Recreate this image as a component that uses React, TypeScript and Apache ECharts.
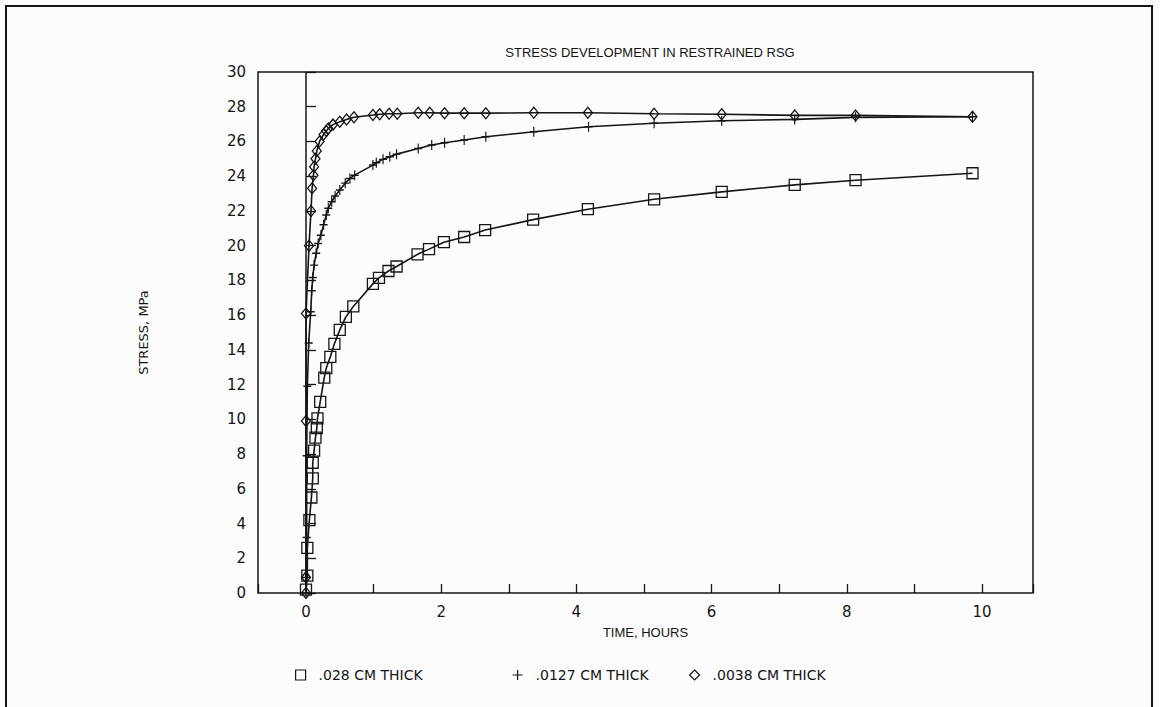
import React, { useEffect, useRef } from "react";
import * as echarts from "echarts";

// Elapsed time (hours) and measured stress (MPa) for each film thickness
const time028 = [0, 0.02, 0.02, 0.05, 0.08, 0.1, 0.1, 0.12, 0.14, 0.16, 0.17, 0.21, 0.27, 0.3, 0.36, 0.42, 0.5, 0.59, 0.7, 0.99, 1.08, 1.22, 1.34, 1.65, 1.82, 2.04, 2.34, 2.65, 3.36, 4.17, 5.15, 6.15, 7.23, 8.13, 9.86];
const stress028 = [0.2, 1.0, 2.6, 4.2, 5.5, 6.6, 7.5, 8.2, 8.95, 9.5, 10.05, 11.0, 12.4, 12.95, 13.6, 14.35, 15.15, 15.9, 16.5, 17.8, 18.15, 18.54, 18.8, 19.5, 19.8, 20.2, 20.5, 20.9, 21.5, 22.1, 22.67, 23.1, 23.5, 23.77, 24.17];

const time0127 = [0, 0, 0.01, 0.01, 0.02, 0.04, 0.07, 0.085, 0.1, 0.12, 0.15, 0.18, 0.22, 0.26, 0.3, 0.33, 0.38, 0.43, 0.5, 0.58, 0.65, 0.72, 0.99, 1.04, 1.14, 1.24, 1.34, 1.66, 1.86, 2.05, 2.34, 2.66, 3.37, 4.18, 5.15, 6.15, 7.23, 8.13, 9.86];
const stress0127 = [0, 0.9, 3.2, 7.9, 11.9, 14.4, 16.2, 17.4, 18.17, 18.88, 19.56, 20.13, 20.6, 21.2, 21.76, 22.15, 22.53, 22.86, 23.2, 23.6, 23.87, 24.06, 24.64, 24.77, 24.97, 25.12, 25.27, 25.6, 25.8, 25.93, 26.08, 26.27, 26.56, 26.85, 27.05, 27.19, 27.27, 27.39, 27.42];

const time0038 = [0, 0, 0, 0, 0.045, 0.074, 0.09, 0.11, 0.12, 0.14, 0.16, 0.2, 0.26, 0.3, 0.33, 0.4, 0.5, 0.6, 0.71, 0.99, 1.09, 1.23, 1.35, 1.66, 1.83, 2.05, 2.34, 2.66, 3.37, 4.17, 5.15, 6.15, 7.23, 8.13, 9.86];
const stress0038 = [0, 0.9, 9.9, 16.1, 20.0, 22.0, 23.3, 24.05, 24.55, 25.0, 25.45, 26.0, 26.4, 26.6, 26.75, 26.97, 27.13, 27.27, 27.39, 27.52, 27.57, 27.6, 27.6, 27.65, 27.65, 27.63, 27.63, 27.63, 27.65, 27.65, 27.6, 27.57, 27.5, 27.5, 27.42];

const seriesNames = [".028 CM THICK", ".0127 CM THICK", ".0038 CM THICK"];
const yTicks = { min: 0, max: 30, step: 2 };
const xRange = { min: -0.71, max: 10.755 };

const INK = "#151515";
const FONT = "'DejaVu Sans', 'Liberation Sans', sans-serif";
const NARROW = "'Liberation Sans', Arial, sans-serif";
const PLUS = "path://M5,0 L5,10 M0,5 L10,5";

const pairs = (xs: number[], ys: number[]) => xs.map((x, i) => [x, ys[i]]);

export default function App() {
  const ref = useRef<HTMLDivElement>(null);

  useEffect(() => {
    if (!ref.current) return;
    const chart = echarts.init(ref.current, undefined, { renderer: "svg" });

    const markerStyle = { color: "transparent", borderColor: INK, borderWidth: 1.3 };
    const lineStyle = { color: INK, width: 1.6 };

    // one legend block per series so each key sits at its own spot on the bottom row
    const legendIcons = ["rect", PLUS, "diamond"];
    const legendLeft = [290, 507, 684];
    const legends = seriesNames.map((name, i) => ({
      left: legendLeft[i],
      top: 663,
      itemWidth: 10,
      itemHeight: 10,
      selectedMode: false,
      itemStyle: { color: "transparent", borderColor: INK, borderWidth: 1.2 },
      textStyle: { fontFamily: FONT, fontSize: 14, color: INK, padding: [0, 0, 0, 8] },
      data: [{ name, icon: legendIcons[i] }],
    }));

    chart.setOption({
      animation: false,
      backgroundColor: "#fcfcfc",
      title: {
        text: "STRESS DEVELOPMENT IN RESTRAINED RSG",
        left: 645,
        top: 41,
        textAlign: "center",
        textStyle: { fontFamily: NARROW, fontSize: 13, fontWeight: "normal", color: INK },
      },
      legend: legends,
      grid: {
        left: 258,
        top: 72,
        right: 127,
        bottom: 114,
        show: true,
        borderColor: INK,
        borderWidth: 1.5,
        backgroundColor: "transparent",
      },
      xAxis: {
        type: "value",
        min: xRange.min,
        max: xRange.max,
        splitNumber: 10,
        name: "TIME, HOURS",
        nameLocation: "middle",
        nameGap: 33,
        nameTextStyle: { fontFamily: NARROW, fontSize: 13, color: INK },
        axisLine: { show: false },
        axisTick: { show: true, inside: true, length: 9, lineStyle: { color: INK, width: 1.3 } },
        splitLine: { show: false },
        axisLabel: {
          margin: 11,
          fontFamily: FONT,
          fontSize: 15,
          color: INK,
          formatter: (v: number) => (Number.isInteger(v) && v % 2 === 0 ? String(v) : ""),
        },
      },
      yAxis: {
        type: "value",
        min: yTicks.min,
        max: yTicks.max,
        interval: yTicks.step,
        name: "STRESS, MPa",
        nameLocation: "middle",
        nameRotate: 90,
        nameGap: 108,
        nameTextStyle: { fontFamily: FONT, fontSize: 13, color: INK },
        axisLine: { show: false },
        axisTick: { show: true, inside: true, length: 10, lineStyle: { color: INK, width: 1.3 } },
        splitLine: { show: false },
        axisLabel: { margin: 12, fontFamily: FONT, fontSize: 15, color: INK },
      },
      series: [
        {
          name: seriesNames[0],
          type: "line",
          data: pairs(time028, stress028),
          symbol: "rect",
          symbolSize: 11,
          itemStyle: markerStyle,
          lineStyle,
          z: 3,
          markLine: {
            silent: true,
            symbol: "none",
            label: { show: false },
            lineStyle: { color: INK, width: 1.5, type: "solid" },
            data: [{ xAxis: 0 }],
          },
        },
        {
          name: seriesNames[1],
          type: "line",
          data: pairs(time0127, stress0127),
          symbol: PLUS,
          symbolSize: [8, 10],
          itemStyle: markerStyle,
          lineStyle,
          z: 3,
        },
        {
          name: seriesNames[2],
          type: "line",
          data: pairs(time0038, stress0038),
          symbol: "diamond",
          symbolSize: [9, 11],
          itemStyle: markerStyle,
          lineStyle,
          z: 3,
        },
      ],
      graphic: [
        {
          type: "rect",
          shape: { x: 6, y: 6, width: 1146, height: 720 },
          style: { fill: "none", stroke: INK, lineWidth: 2 },
          silent: true,
          z: -1,
        },
      ],
    });

    return () => chart.dispose();
  }, []);

  return (
    <div
      ref={ref}
      style={{ position: "absolute", left: 0, top: 0, width: 1160, height: 707 }}
    />
  );
}
